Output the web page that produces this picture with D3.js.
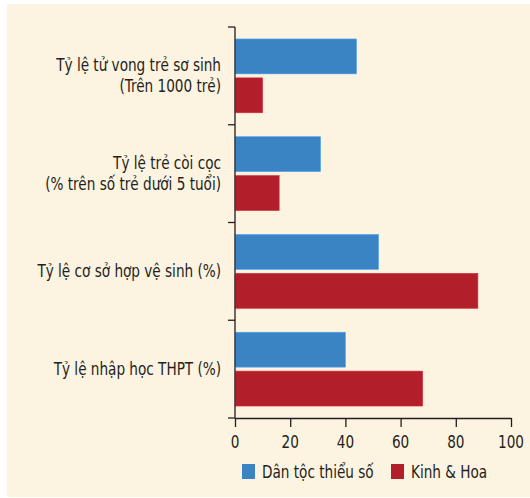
<!DOCTYPE html>
<html><head><meta charset="utf-8">
<script src="https://cdn.jsdelivr.net/npm/d3@7"></script>
<style>body{margin:0;background:#fff}svg{display:block}text{font-family:"DejaVu Sans Condensed","Liberation Sans Narrow",sans-serif;fill:#231f20}</style>
</head><body><svg id="c" width="530" height="498"></svg>
<script>
const categories = [
  ["Tỷ lệ tử vong trẻ sơ sinh","(Trên 1000 trẻ)"],
  ["Tỷ lệ trẻ còi cọc","(% trên số trẻ dưới 5 tuổi)"],
  ["Tỷ lệ cơ sở hợp vệ sinh (%)"],
  ["Tỷ lệ nhập học THPT (%)"]
];
const seriesNames = ["Dân tộc thiểu số","Kinh & Hoa"];
const minority = [44,31,52,40];
const kinhHoa = [10,16,88,68];
const xTicks = [0,20,40,60,80,100];
const colors = ["#3b84c4","#b21f2b"];
const SX = 0.89;

const svg = d3.select("#c");
svg.append("rect").attr("x",7).attr("y",4).attr("width",523).attr("height",493).attr("fill","#fdf3e1");

const x = d3.scaleLinear().domain([0,100]).range([235,511]);
const catKeys = categories.map((c,i)=>i);
const y0 = d3.scaleBand().domain(catKeys).range([27,418]);
const y1 = d3.scaleBand().domain([0,1]).range([0,y0.bandwidth()]).paddingInner(4/39).paddingOuter(0.3077);
const series = [minority,kinhHoa];

function label(sel, tx, ty, anchor, t, fs){
  return sel.append("text").attr("transform",`translate(${tx},${ty}) scale(${SX},1)`)
    .attr("text-anchor",anchor).attr("font-size",fs).text(t);
}

const g = svg.append("g");
catKeys.forEach(i=>{
  series.forEach((s,j)=>{
    g.append("rect").attr("x",x(0)).attr("y",y0(i)+y1(j))
     .attr("width",x(s[i])-x(0)).attr("height",y1.bandwidth())
     .attr("fill",colors[j]).attr("stroke",d3.color(colors[j]).brighter(0.6)).attr("stroke-width",0.6);
  });
  const lines = categories[i];
  const cy = y0(i)+y0.bandwidth()/2;
  lines.forEach((t,k)=>{
    label(g, 221, cy + (k-(lines.length-1)/2)*21 + 6, "end", t, 17);
  });
});

// y axis
const ya = svg.append("g").attr("transform",`translate(${x(0)},0)`);
ya.append("line").attr("x1",0).attr("x2",0).attr("y1",27).attr("y2",418).attr("stroke","#3a3a3a").attr("stroke-width",1.5);
const bounds = catKeys.map(i=>y0(i)).concat([y0.range()[1]]);
ya.selectAll("line.t").data(bounds).enter().append("line").attr("class","t")
  .attr("x1",-7).attr("x2",0).attr("y1",d=>d).attr("y2",d=>d).attr("stroke","#231f20").attr("stroke-width",1.3);

// x axis
const xa = svg.append("g").attr("transform","translate(0,418)")
  .call(d3.axisBottom(x).tickValues(xTicks).tickSize(9).tickSizeOuter(0).tickFormat(""));
xa.select(".domain").attr("stroke","#231f20").attr("stroke-width",1.3);
xa.selectAll(".tick line").attr("stroke","#231f20").attr("stroke-width",1.3);
xTicks.forEach(v=>label(svg, x(v), 448, "middle", String(v), 17));

// legend
const leg = svg.append("g");
const legX = [242,391];
seriesNames.forEach((n,j)=>{
  leg.append("rect").attr("x",legX[j]).attr("y",464).attr("width",13).attr("height",15).attr("fill",colors[j]);
  label(leg, legX[j]+20, 478, "start", n, 17);
});
</script></body></html>
